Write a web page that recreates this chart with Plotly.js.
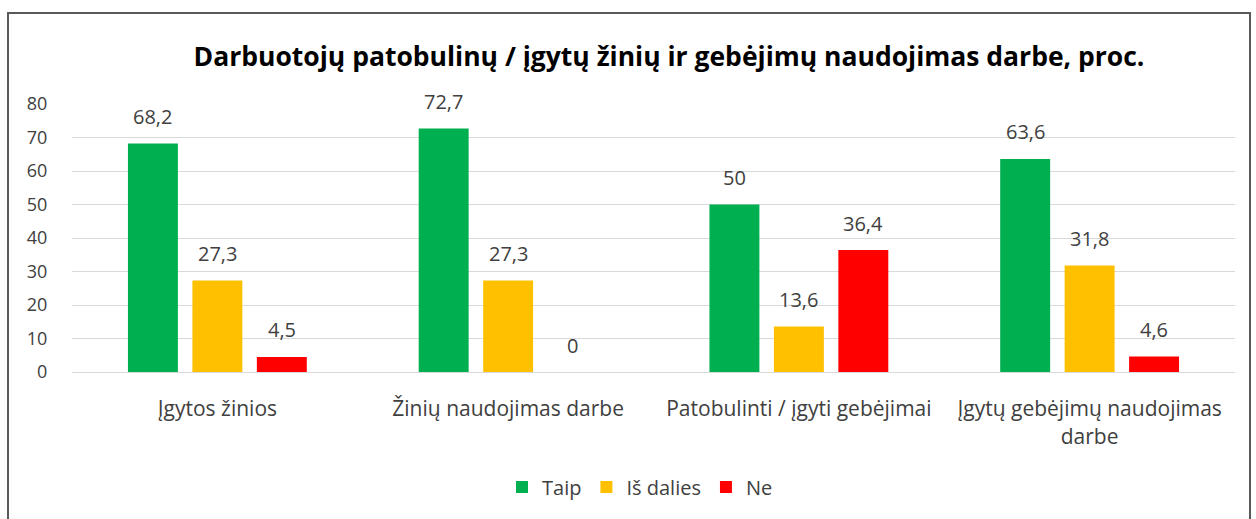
<!DOCTYPE html>
<html><head><meta charset="utf-8">
<script src="https://cdn.plot.ly/plotly-3.0.1.min.js"></script>
<style>
html,body{margin:0;padding:0;background:#fff;width:1256px;height:519px;overflow:hidden;}
#frame{position:absolute;left:7px;top:12px;width:1244px;height:540px;border:2px solid #595959;box-sizing:border-box;pointer-events:none;z-index:5;}
#chart{position:absolute;left:0;top:0;width:1256px;height:519px;}
</style></head>
<body>
<div id="chart"></div>
<div id="frame"></div>
<script>
const categories = ["Įgytos žinios", "Žinių naudojimas darbe", "Patobulinti / įgyti gebėjimai", "Įgytų gebėjimų naudojimas<br>darbe"];
const seriesNames = ["Taip", "Iš dalies", "Ne"];
const taip = [68.2, 72.7, 50, 63.6];
const isDalies = [27.3, 27.3, 13.6, 31.8];
const ne = [4.5, 0, 36.4, 4.6];
const colors = ["#00B050", "#FFC000", "#FF0000"];
const tickVals = [0, 10, 20, 30, 40, 50, 60, 70, 80];

const FONT = "'Open Sans', sans-serif";
const series = [taip, isDalies, ne];
const fmt = v => String(v).replace('.', ',');

const traces = series.map((vals, j) => ({
  type: 'bar', name: seriesNames[j], x: categories, y: vals,
  marker: {color: colors[j]}, hoverinfo: 'none'
}));

const slot = 0.2217;
const annotations = [];
series.forEach((vals, j) => {
  vals.forEach((v, i) => {
    annotations.push({
      x: i + (j - 1) * slot, y: v, xref: 'x', yref: 'y',
      text: fmt(v), showarrow: false, yanchor: 'middle', yshift: 27,
      font: {family: FONT, size: 20, color: '#404040'}
    });
  });
});

const layout = {
  width: 1256, height: 519,
  margin: {l: 72, r: 21, t: 104, b: 147},
  paper_bgcolor: '#fff', plot_bgcolor: '#fff',
  title: {text: '<b>Darbuotojų patobulinų / įgytų žinių ir gebėjimų naudojimas darbe, proc.</b>',
          x: 669 / 1256, xanchor: 'center', xref: 'container', y: 1 - 57 / 519, yref: 'container', yanchor: 'middle',
          font: {family: FONT, size: 26.5, color: '#000'}},
  barmode: 'group', bargap: 0.335, bargroupgap: 0.225,
  xaxis: {type: 'category', showgrid: false, showline: false, ticks: 'outside', ticklen: 18,
          tickcolor: 'rgba(0,0,0,0)', automargin: false,
          tickfont: {family: FONT, size: 21, color: '#404040'}},
  yaxis: {range: [0, 80], tickvals: tickVals, showgrid: true, gridcolor: '#D9D9D9', gridwidth: 1,
          zeroline: true, zerolinecolor: '#D9D9D9', zerolinewidth: 1, showline: false,
          ticks: 'outside', ticklen: 20, tickcolor: 'rgba(0,0,0,0)', automargin: false,
          tickfont: {family: FONT, size: 18, color: '#404040'}},
  showlegend: true,
  legend: {orientation: 'h', x: 640 / 1256, xref: 'container', xanchor: 'center', y: 1 - 487 / 519, yref: 'container', yanchor: 'middle',
           font: {family: FONT, size: 20, color: '#404040'}, itemwidth: 30, traceorder: 'normal'},
  annotations: annotations
};

Plotly.newPlot('chart', traces, layout, {displayModeBar: false, staticPlot: true});
</script>
</body></html>
